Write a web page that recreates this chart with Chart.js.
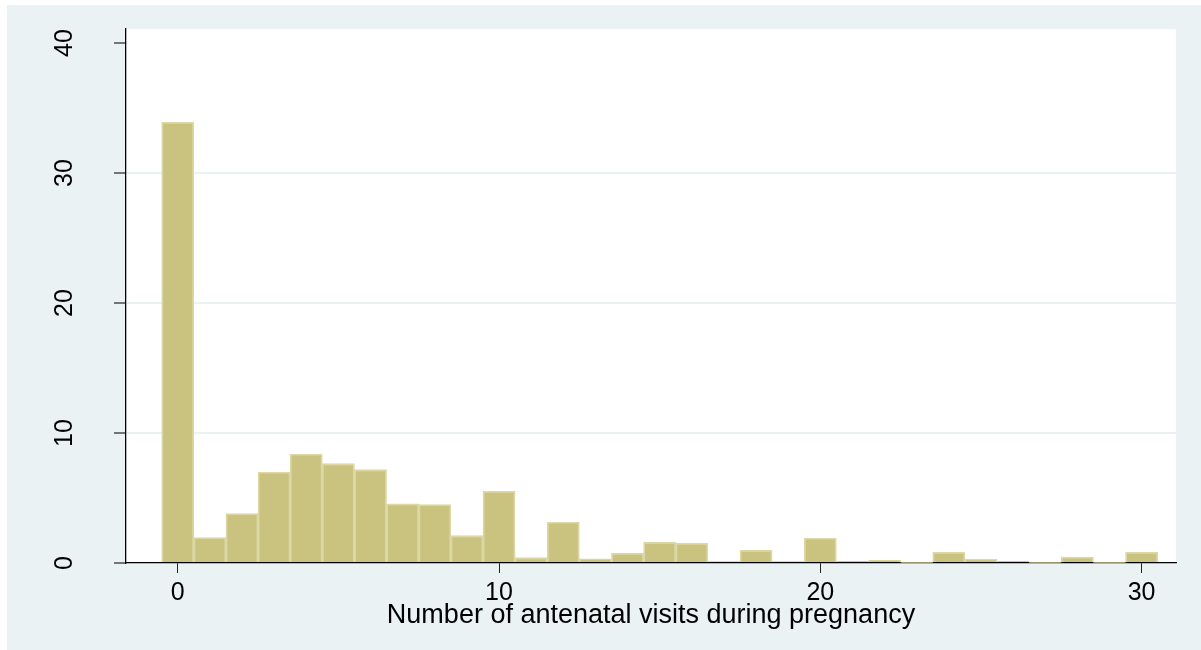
<!DOCTYPE html>
<html>
<head>
<meta charset="utf-8">
<script src="https://cdn.jsdelivr.net/npm/chart.js@4"></script>
<style>
  html, body { margin: 0; padding: 0; background: #fff; }
</style>
</head>
<body>
<canvas id="visitsChart" width="1201" height="650"></canvas>
<script>
// Histogram data (percent of women by number of visits)
const visits = [0, 1, 2, 3, 4, 5, 6, 7, 8, 9, 10, 11, 12, 13, 14, 15,
                16, 17, 18, 19, 20, 21, 22, 23, 24, 25, 26, 27, 28, 29, 30];
const percent = [33.9, 1.95, 3.8, 7.0, 8.38, 7.64, 7.18, 4.56, 4.49, 2.1, 5.51,
                 0.41, 3.15, 0.33, 0.74, 1.59, 1.51, 0.1, 0.97, 0.1, 1.92,
                 0.13, 0.2, 0.05, 0.82, 0.28, 0.13, 0.05, 0.46, 0.05, 0.82];
const xTicks = [0, 10, 20, 30];
const yTicks = [0, 10, 20, 30, 40];
const gridValues = [10, 20, 30];
const xTitle = 'Number of antenatal visits during pregnancy';

const FONT = "'Liberation Sans', Arial, sans-serif";

// Stata style background: grey frame, white plot region
const stataBackground = {
    id: 'stataBackground',
    beforeDraw(chart) {
        const ctx = chart.ctx;
        const a = chart.chartArea;
        ctx.save();
        ctx.fillStyle = '#ffffff';
        ctx.fillRect(0, 0, chart.width, chart.height);
        ctx.fillStyle = '#EAF2F3';
        ctx.fillRect(7, 5, chart.width - 7, chart.height - 5);
        ctx.fillStyle = '#ffffff';
        ctx.fillRect(a.left, a.top, a.right - a.left, a.bottom - a.top);
        ctx.restore();
    }
};

const ctx = document.getElementById('visitsChart').getContext('2d');
new Chart(ctx, {
    type: 'bar',
    data: {
        datasets: [{
            data: visits.map((v, i) => ({ x: v, y: percent[i] })),
            backgroundColor: '#C9C37F',
            borderColor: '#DCD7A5',
            borderWidth: 1.8,
            barPercentage: 1.0,
            categoryPercentage: 1.0
        }]
    },
    options: {
        responsive: false,
        animation: false,
        devicePixelRatio: 1,
        layout: {
            padding: { top: 29, right: 25, bottom: 0, left: 0 }
        },
        plugins: {
            legend: { display: false },
            tooltip: { enabled: false }
        },
        scales: {
            x: {
                type: 'linear',
                min: -1.61,
                max: 31.07,
                offset: false,
                afterBuildTicks: axis => { axis.ticks = xTicks.map(v => ({ value: v })); },
                afterFit: axis => {
                    axis.height = 87;
                    axis.paddingLeft = 0;
                    axis.paddingRight = 0;
                },
                grid: {
                    offset: false,
                    drawOnChartArea: false,
                    drawTicks: true,
                    tickLength: 10,
                    tickColor: '#222'
                },
                border: { display: true, color: '#000', width: 1.3 },
                ticks: {
                    autoSkip: false,
                    maxRotation: 0,
                    padding: 5,
                    color: '#000',
                    font: { family: FONT, size: 25 }
                },
                title: {
                    display: true,
                    text: xTitle,
                    color: '#000',
                    font: { family: FONT, size: 27 },
                    padding: { top: 0, bottom: 18 }
                }
            },
            y: {
                min: 0,
                max: 41.08,
                afterBuildTicks: axis => { axis.ticks = yTicks.map(v => ({ value: v })); },
                afterFit: axis => {
                    axis.width = 126;
                    axis.paddingTop = 0;
                    axis.paddingBottom = 0;
                },
                grid: {
                    color: c => (gridValues.includes(c.tick.value) ? '#EAF2F3' : 'rgba(0,0,0,0)'),
                    lineWidth: 2,
                    drawTicks: true,
                    tickLength: 12,
                    tickColor: '#222',
                    tickWidth: 1.2
                },
                border: { display: true, color: '#000', width: 1.3 },
                ticks: {
                    minRotation: 90,
                    maxRotation: 90,
                    crossAlign: 'center',
                    padding: 35,
                    color: '#000',
                    font: { family: FONT, size: 25 }
                }
            }
        }
    },
    plugins: [stataBackground]
});
</script>
</body>
</html>
